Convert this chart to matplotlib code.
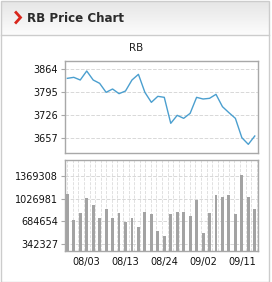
import matplotlib
matplotlib.use('Agg')
import matplotlib.pyplot as plt
import numpy as np
from matplotlib.patches import Rectangle
from matplotlib.lines import Line2D
from matplotlib.ticker import MultipleLocator

plt.rcParams['font.family'] = ['DejaVu Sans']

# 價格與成交量數據
prices = [3837, 3840, 3832, 3859, 3832, 3822, 3795, 3805, 3791, 3799,
          3832, 3849, 3795, 3765, 3783, 3780, 3702, 3726, 3717, 3732,
          3780, 3775, 3777, 3789, 3752, 3734, 3717, 3659, 3639, 3664]
volumes = [1097000, 700000, 805000, 1042000, 936000, 730000, 876000, 730000, 815000, 680000,
           740000, 594000, 825000, 800000, 544000, 463000, 795000, 825000, 820000, 765000,
           1007000, 503000, 810000, 1077000, 1052000, 1077000, 790000, 1384000, 1052000, 876000]
tick_idx = [3, 9, 15, 21, 27]
tick_labels = ['08/03', '08/13', '08/24', '09/02', '09/11']
price_ticks = [3657, 3726, 3795, 3864]
volume_ticks = [342327, 684654, 1026981, 1369308]

W, H = 272, 282
fig = plt.figure(figsize=(W / 100, H / 100), dpi=100, facecolor='white')


def box(x0, y0, x1, y1):
    # 像素座標轉換為 figure 座標
    return [x0 / W, 1 - y1 / H, (x1 - x0) / W, (y1 - y0) / H]


# 標題列（漸層背景）
grad = np.linspace(0.90, 0.99, 50).reshape(-1, 1)
hax = fig.add_axes(box(1, 1, 269, 35))
hax.imshow(np.dstack([grad, grad, grad]), aspect='auto', extent=[0, 1, 0, 1])
hax.set_axis_off()
fig.add_artist(Line2D([1 / W, 269 / W], [1 - 35 / H, 1 - 35 / H], color='#cccccc', lw=1))
fig.add_artist(Rectangle((1 / W, 0), 268 / W, 1 - 1 / H, fill=False, ec='#cccccc', lw=1))
fig.add_artist(Line2D([16 / W, 20.5 / W, 16 / W], [1 - 12.5 / H, 1 - 17.5 / H, 1 - 22.5 / H],
                      color='#d9261c', lw=2.0, solid_joinstyle='miter'))
fig.text(27 / W, 1 - 18 / H, 'RB Price Chart', fontsize=8.6, fontweight='bold',
         color='#2b2b2b', va='center', ha='left')
fig.text(136 / W, 1 - 48 / H, 'RB', fontsize=7.5, color='#222222', ha='center', va='center')

x = np.arange(len(prices))
frame_color = '#a8a8a8'

# 價格走勢
ax1 = fig.add_axes(box(65, 61, 258, 153))
ax1.plot(x, prices, color='#4b9fcf', lw=1.0)
ax1.set_xlim(-0.36, 29.5)
ax1.set_ylim(3613, 3889)
ax1.set_yticks(price_ticks)
ax1.set_yticklabels([str(v) for v in price_ticks])
ax1.set_xticks([])
ax1.grid(True, axis='y', color='#d8d8d8', linestyle='--', lw=0.7)

# 成交量
ax2 = fig.add_axes(box(65, 160, 258, 251))
ax2.bar(x, volumes, width=0.45, color='#a3a3a3', bottom=0)
ax2.set_xlim(-0.36, 29.5)
ax2.set_ylim(236600, 1611000)
ax2.set_yticks(volume_ticks)
ax2.set_yticklabels([str(v) for v in volume_ticks])
ax2.set_xticks(tick_idx)
ax2.set_xticklabels(tick_labels)
ax2.xaxis.set_minor_locator(MultipleLocator(0.862))
ax2.grid(True, axis='y', color='#d8d8d8', linestyle='--', lw=0.7)
ax2.grid(True, axis='x', which='minor', color='#dcdcdc', linestyle='--', lw=0.6)
ax2.tick_params(axis='x', which='minor', length=0)

for ax in (ax1, ax2):
    ax.set_axisbelow(True)
    for s in ax.spines.values():
        s.set_color(frame_color)
        s.set_linewidth(1)
    ax.tick_params(axis='both', which='major', labelsize=7, length=3, width=0.8,
                   color=frame_color, labelcolor='#111111', pad=2)
    ax.tick_params(axis='x', length=0, pad=4)

fig.savefig('out.png', dpi=100)
